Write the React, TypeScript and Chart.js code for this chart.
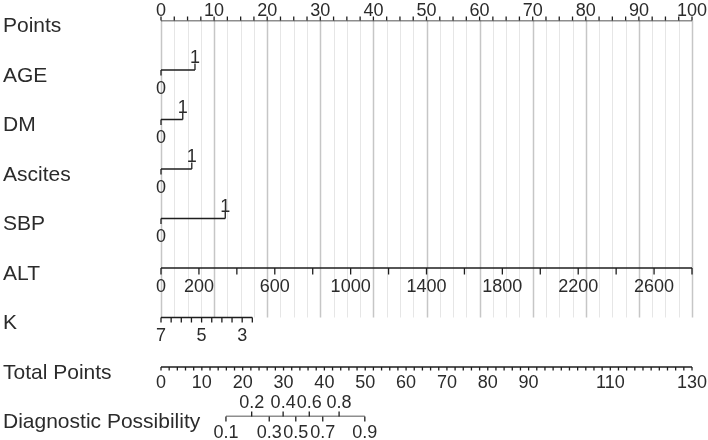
import { useEffect, useRef } from "react";
import { Chart, registerables } from "chart.js";

Chart.register(...registerables);

// ---- data ----
const rowNames = [
  "Points",
  "AGE",
  "DM",
  "Ascites",
  "SBP",
  "ALT",
  "K",
  "Total Points",
  "Diagnostic Possibility",
];

const pointsLabels = [0, 10, 20, 30, 40, 50, 60, 70, 80, 90, 100];
const pointsMinorStep = 2.5;

const ageLevels = ["0", "1"];
const agePoints = [0, 6.4];
const dmLevels = ["0", "1"];
const dmPoints = [0, 4.1];
const ascitesLevels = ["0", "1"];
const ascitesPoints = [0, 5.8];
const sbpLevels = ["0", "1"];
const sbpPoints = [0, 12.1];

const altTicks = [0, 200, 400, 600, 800, 1000, 1200, 1400, 1600, 1800, 2000, 2200, 2400, 2600, 2800];
const altLabels = [0, 200, 600, 1000, 1400, 1800, 2200, 2600];
const altMaxValue = 2800; // equals 100 points

const kTicks = [7, 6.5, 6, 5.5, 5, 4.5, 4, 3.5, 3, 2.5];
const kLabels = [7, 5, 3];
const kValueRange = [7, 2.5];
const kPointRange = [0, 17.2];

const totalTickStep = 2;
const totalLabels = [0, 10, 20, 30, 40, 50, 60, 70, 80, 90, 110, 130];
const totalMax = 130;

const diagProbs = ["0.1", "0.2", "0.3", "0.4", "0.5", "0.6", "0.7", "0.8", "0.9"];
const diagTotals = [15.9, 22.2, 26.5, 29.9, 33.0, 36.3, 39.6, 43.6, 49.9];

// ---- helpers ----
const altToPoints = (v: number) => (v / altMaxValue) * 100;
const kToPoints = (v: number) =>
  kPointRange[0] + ((v - kValueRange[0]) / (kValueRange[1] - kValueRange[0])) * (kPointRange[1] - kPointRange[0]);

const NAME_FONT = "21px 'Liberation Sans', Arial, sans-serif";
const TICK_FONT = "18px 'Liberation Sans', Arial, sans-serif";
const TEXT_COLOR = "#2b2b2b";
const LINE_COLOR = "#1e1e1e";

const seg = (x0: number, x1: number, row: number, axis = "x") => ({
  data: [
    { x: x0, y: row },
    { x: x1, y: row },
  ],
  xAxisID: axis,
  showLine: true,
  borderColor: LINE_COLOR,
  borderWidth: 1.4,
  pointRadius: 0,
  pointHoverRadius: 0,
});

const nomogramPlugin = {
  id: "nomogram",
  beforeDatasetsDraw(chart: any) {
    const ctx = chart.ctx;
    const x = chart.scales.x;
    const y = chart.scales.y;
    const top = y.getPixelForValue(0);
    const bottom = y.getPixelForValue(6);
    ctx.save();
    for (let v = 0; v <= 100 + 1e-9; v += pointsMinorStep) {
      const px = Math.round(x.getPixelForValue(v)) + 0.5;
      const major = Math.abs(v % 10) < 1e-9;
      ctx.strokeStyle = major ? "#c6c6c6" : "#e6e6e6";
      ctx.lineWidth = major ? 1.5 : 1;
      ctx.beginPath();
      ctx.moveTo(px, top);
      ctx.lineTo(px, bottom);
      ctx.stroke();
    }
    ctx.restore();
  },
  afterDatasetsDraw(chart: any) {
    const ctx = chart.ctx;
    const x = chart.scales.x;
    const xt = chart.scales.xt;
    const y = chart.scales.y;
    ctx.save();
    ctx.strokeStyle = LINE_COLOR;
    ctx.lineWidth = 1.3;
    ctx.fillStyle = TEXT_COLOR;

    const tick = (px: number, py: number, len: number) => {
      ctx.beginPath();
      ctx.moveTo(px, py);
      ctx.lineTo(px, py + len);
      ctx.stroke();
    };
    const label = (text: string, px: number, py: number) => {
      ctx.font = TICK_FONT;
      ctx.textAlign = "center";
      ctx.textBaseline = "alphabetic";
      ctx.fillText(text, px, py);
    };

    // row names
    rowNames.forEach((n, i) => {
      ctx.font = NAME_FONT;
      ctx.textAlign = "left";
      ctx.textBaseline = "alphabetic";
      ctx.fillText(n, 3, y.getPixelForValue(i) + 11.5);
    });

    // Points axis (row 0)
    const L0 = y.getPixelForValue(0);
    for (let v = 0; v <= 100 + 1e-9; v += pointsMinorStep) tick(x.getPixelForValue(v), L0, -4);
    pointsLabels.forEach((v) => label(String(v), x.getPixelForValue(v), L0 - 4.5));

    // categorical rows
    const cats: [string[], number[], number][] = [
      [ageLevels, agePoints, 1],
      [dmLevels, dmPoints, 2],
      [ascitesLevels, ascitesPoints, 3],
      [sbpLevels, sbpPoints, 4],
    ];
    cats.forEach(([levels, pts, row]) => {
      const L = y.getPixelForValue(row);
      levels.forEach((lv, i) => {
        const px = x.getPixelForValue(pts[i]);
        if (i % 2 === 0) {
          tick(px, L, 5.5);
          label(lv, px, L + 23.5);
        } else {
          tick(px, L, -6.5);
          label(lv, px, L - 7);
        }
      });
    });

    // ALT (row 5)
    const L5 = y.getPixelForValue(5);
    altTicks.forEach((v) => tick(x.getPixelForValue(altToPoints(v)), L5, 6.5));
    altLabels.forEach((v) => label(String(v), x.getPixelForValue(altToPoints(v)), L5 + 23.5));

    // K (row 6)
    const L6 = y.getPixelForValue(6);
    kTicks.forEach((v) => tick(x.getPixelForValue(kToPoints(v)), L6, 5));
    kLabels.forEach((v) => label(String(v), x.getPixelForValue(kToPoints(v)), L6 + 23));

    // Total Points (row 7)
    const L7 = y.getPixelForValue(7);
    for (let v = 0; v <= totalMax + 1e-9; v += totalTickStep) tick(xt.getPixelForValue(v), L7, 3.5);
    totalLabels.forEach((v) => label(String(v), xt.getPixelForValue(v), L7 + 21));

    // Diagnostic Possibility (row 8)
    const L8 = y.getPixelForValue(8);
    diagProbs.forEach((p, i) => {
      const px = xt.getPixelForValue(diagTotals[i]);
      if (i % 2 === 0) {
        tick(px, L8, 5);
        label(p, px, L8 + 21.5);
      } else {
        tick(px, L8, -5);
        label(p, px, L8 - 8.5);
      }
    });

    ctx.restore();
  },
};

export default function App() {
  const ref = useRef<HTMLCanvasElement | null>(null);
  useEffect(() => {
    if (!ref.current) return;
    const chart = new Chart(ref.current, {
      type: "scatter",
      data: {
        datasets: [
          seg(0, 100, 0),
          seg(agePoints[0], agePoints[1], 1),
          seg(dmPoints[0], dmPoints[1], 2),
          seg(ascitesPoints[0], ascitesPoints[1], 3),
          seg(sbpPoints[0], sbpPoints[1], 4),
          seg(altToPoints(altTicks[0]), altToPoints(altTicks[altTicks.length - 1]), 5),
          seg(kToPoints(kTicks[0]), kToPoints(kTicks[kTicks.length - 1]), 6),
          seg(0, totalMax, 7, "xt"),
          seg(diagTotals[0], diagTotals[diagTotals.length - 1], 8, "xt"),
        ] as any,
      },
      options: {
        responsive: false,
        animation: false,
        events: [],
        layout: { padding: { left: 161, right: 16, top: 20.5, bottom: 23.5 } },
        plugins: { legend: { display: false }, tooltip: { enabled: false } },
        scales: {
          x: { type: "linear", min: 0, max: 100, display: false },
          xt: { type: "linear", axis: "x", min: 0, max: totalMax, display: false },
          y: { type: "linear", min: 0, max: 8, reverse: true, display: false },
        },
      } as any,
      plugins: [nomogramPlugin],
    });
    return () => chart.destroy();
  }, []);
  return (
    <div style={{ position: "absolute", left: 0, top: 0, width: 708, height: 440, background: "#fff" }}>
      <canvas ref={ref} width={708} height={440} style={{ display: "block" }} />
    </div>
  );
}
